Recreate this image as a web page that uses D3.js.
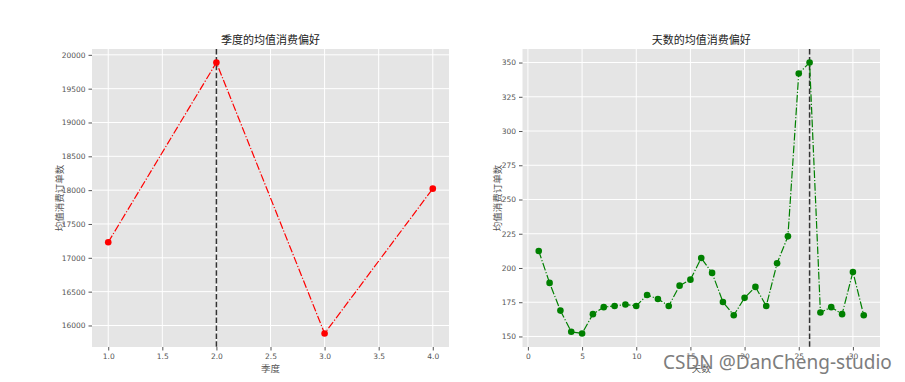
<!DOCTYPE html>
<html>
<head>
<meta charset="utf-8">
<script src="https://cdn.jsdelivr.net/npm/d3@7/dist/d3.min.js"></script>
<style>
  html, body { margin: 0; padding: 0; background: #fff; }
  svg { display: block; }
  .tick text { font-family: "DejaVu Sans", sans-serif; font-size: 7.5px; fill: #555; }
  .cjk { font-family: "Noto Sans CJK SC", sans-serif; }
</style>
</head>
<body>
<svg id="chart" width="905" height="382"></svg>
<script>
// Mean order count by quarter
const quarters = [1, 2, 3, 4];
const quarterValues = [17230, 19886, 15882, 18022];
const quarterTicks = [1.0, 1.5, 2.0, 2.5, 3.0, 3.5, 4.0];
const quarterYTicks = [16000, 16500, 17000, 17500, 18000, 18500, 19000, 19500, 20000];
const quarterPeak = 2;

// Mean order count by day of month
const days = d3.range(1, 32);
const dayValues = [212.4, 189.1, 168.9, 153.4, 152.2, 166.3, 171.4, 172.3, 173.3, 172.3,
                   180.3, 177.4, 172.3, 187.1, 191.5, 207.3, 196.4, 175.2, 165.5, 178.2,
                   186.2, 172.3, 203.4, 223.1, 342.0, 350.0, 167.5, 171.4, 166.3, 197.1, 165.5];
const dayTicks = [0, 5, 10, 15, 20, 25, 30];
const dayYTicks = [150, 175, 200, 225, 250, 275, 300, 325, 350];
const dayPeak = 26;

const svg = d3.select("#chart");

function pad(ext, f) {
  const r = ext[1] - ext[0];
  return [ext[0] - r * f, ext[1] + r * f];
}

function panel(opt) {
  const { left, right, top, bottom } = opt.box;
  const x = d3.scaleLinear().domain(pad(d3.extent(opt.xs), 0.05)).range([left, right]);
  const y = d3.scaleLinear().domain(pad(d3.extent(opt.ys), 0.05)).range([bottom, top]);
  const g = svg.append("g");

  g.append("rect")
    .attr("x", left).attr("y", top)
    .attr("width", right - left).attr("height", bottom - top)
    .attr("fill", "#E5E5E5");

  // grid
  g.append("g").selectAll("line").data(opt.xTicks).join("line")
    .attr("x1", d => x(d)).attr("x2", d => x(d))
    .attr("y1", top).attr("y2", bottom)
    .attr("stroke", "#fff").attr("stroke-width", 1);
  g.append("g").selectAll("line").data(opt.yTicks).join("line")
    .attr("x1", left).attr("x2", right)
    .attr("y1", d => y(d)).attr("y2", d => y(d))
    .attr("stroke", "#fff").attr("stroke-width", 1);

  // axes
  const xa = g.append("g").attr("transform", `translate(0,${bottom})`)
    .call(d3.axisBottom(x).tickValues(opt.xTicks).tickFormat(opt.xFmt).tickSize(3.5).tickPadding(3));
  const ya = g.append("g").attr("transform", `translate(${left},0)`)
    .call(d3.axisLeft(y).tickValues(opt.yTicks).tickFormat(d3.format("d")).tickSize(3.5).tickPadding(3));
  [xa, ya].forEach(a => {
    a.select(".domain").remove();
    a.selectAll(".tick line").attr("stroke", "#555");
  });

  // peak marker
  g.append("line")
    .attr("x1", x(opt.peak)).attr("x2", x(opt.peak))
    .attr("y1", top).attr("y2", bottom)
    .attr("stroke", "#333").attr("stroke-width", 1.5)
    .attr("stroke-dasharray", "5.5,2.4");

  const line = d3.line().x((d, i) => x(opt.xs[i])).y(d => y(d));
  g.append("path").datum(opt.ys)
    .attr("d", line)
    .attr("fill", "none")
    .attr("stroke", opt.color).attr("stroke-width", 1.2)
    .attr("stroke-dasharray", "7.7,1.9,1.2,1.9");
  g.append("g").selectAll("circle").data(opt.ys).join("circle")
    .attr("cx", (d, i) => x(opt.xs[i])).attr("cy", d => y(d))
    .attr("r", 3.3).attr("fill", opt.color);

  g.append("text").attr("class", "cjk")
    .attr("x", (left + right) / 2).attr("y", top - 5)
    .attr("text-anchor", "middle")
    .attr("font-size", 11).attr("fill", "#222")
    .text(opt.title);
  g.append("text").attr("class", "cjk")
    .attr("x", (left + right) / 2).attr("y", bottom + 25)
    .attr("text-anchor", "middle")
    .attr("font-size", 9.5).attr("fill", "#555")
    .text(opt.xLabel);
  g.append("text").attr("class", "cjk")
    .attr("transform", `translate(${opt.yLabelX},${(top + bottom) / 2}) rotate(-90)`)
    .attr("text-anchor", "middle").attr("dominant-baseline", "central")
    .attr("font-size", 9.5).attr("fill", "#555")
    .text(opt.yLabel);
}

panel({
  box: { left: 92, right: 449, top: 49, bottom: 347 },
  xs: quarters, ys: quarterValues,
  xTicks: quarterTicks, yTicks: quarterYTicks,
  xFmt: d3.format(".1f"),
  peak: quarterPeak, color: "#FF0000",
  title: "季度的均值消费偏好", xLabel: "季度", yLabel: "均值消费订单数",
  yLabelX: 59
});

panel({
  box: { left: 522.5, right: 880, top: 49, bottom: 347 },
  xs: days, ys: dayValues,
  xTicks: dayTicks, yTicks: dayYTicks,
  xFmt: d3.format("d"),
  peak: dayPeak, color: "#008000",
  title: "天数的均值消费偏好", xLabel: "天数", yLabel: "均值消费订单数",
  yLabelX: 497
});

svg.append("text")
  .attr("x", 663).attr("y", 369)
  .attr("font-family", "'Noto Sans', sans-serif")
  .attr("font-size", 19)
  .attr("fill", "#7d7d7d")
  .attr("stroke", "#fff").attr("stroke-width", 0.6).attr("paint-order", "stroke")
  .text("CSDN @DanCheng-studio");
</script>
</body>
</html>
